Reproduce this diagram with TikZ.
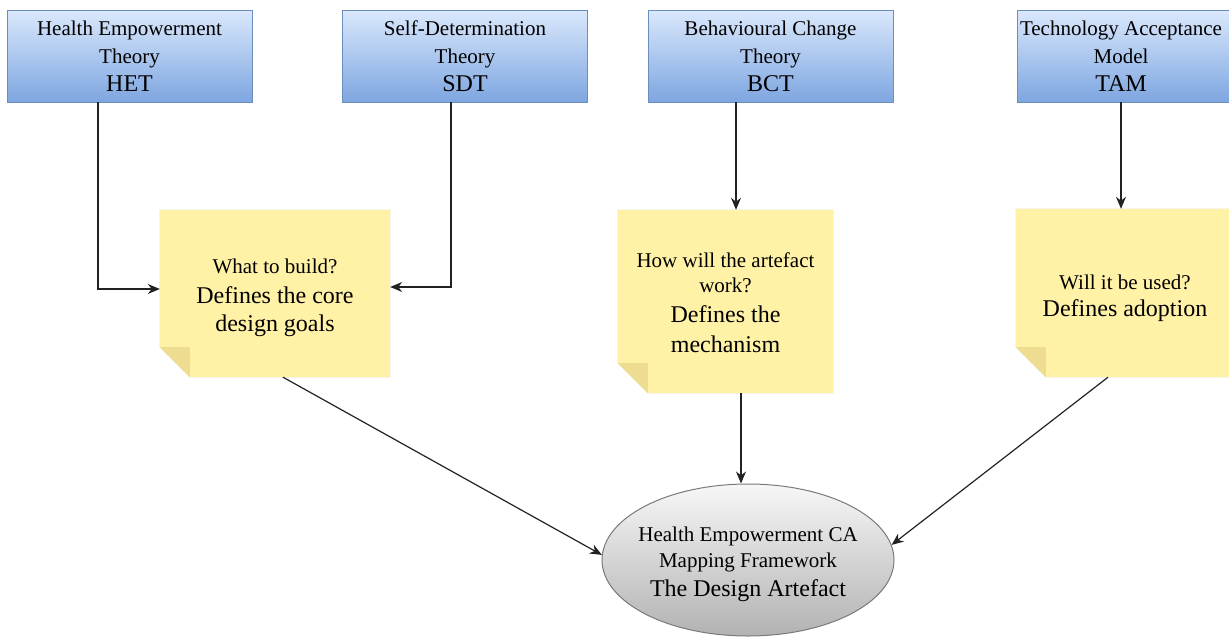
\documentclass[tikz,border=0pt]{standalone}
\usepackage{fontspec}
\setmainfont{Liberation Serif}
\newfontfamily\serifface{Liberation Serif}
\usetikzlibrary{arrows.meta,shapes.geometric}

\definecolor{boxtop}{RGB}{218,232,252}
\definecolor{boxbot}{RGB}{126,166,224}
\definecolor{boxline}{RGB}{108,142,191}
\definecolor{notefill}{HTML}{FFF1A6}
\definecolor{notefold}{HTML}{EEDD90}
\definecolor{ovaltop}{HTML}{F7F7F7}
\definecolor{ovalbot}{HTML}{B2B2B2}
\definecolor{ovalline}{HTML}{7A7A7A}
\definecolor{wire}{HTML}{222222}

\newcommand\smallf{\serifface\fontsize{21}{28}\selectfont}
\newcommand\bigf{\serifface\fontsize{24}{30}\selectfont}

% sticky-note body with a folded bottom-left corner and a soft shadow
\newcommand\notebody[1]{%
  \foreach \s/\o in {6/0.06,4/0.10,2.5/0.14}{%
    \fill[black,opacity=\o,shift={(\s pt,\s pt)}]
      (#1.north west) -- (#1.north east) -- (#1.south east)
      -- ([xshift=30pt]#1.south west) -- ([yshift=30pt]#1.south west) -- cycle;}
  \fill[notefill] (#1.north west) -- (#1.north east) -- (#1.south east)
    -- ([xshift=30pt]#1.south west) -- ([yshift=30pt]#1.south west) -- cycle;
  \fill[notefold] ([yshift=30pt]#1.south west) -- ([xshift=30pt,yshift=30pt]#1.south west)
    -- ([xshift=30pt]#1.south west) -- cycle;}

\tikzset{
  theory/.style={draw=boxline, line width=0.8pt, top color=boxtop, bottom color=boxbot,
    minimum width=245pt, minimum height=92pt, inner sep=0pt, align=center, font=\smallf},
  notebox/.style={inner sep=0pt, align=center, font=\smallf},
  oval/.style={ellipse, draw=ovalline, line width=1pt, top color=ovaltop, bottom color=ovalbot,
    minimum width=292pt, minimum height=152pt, inner ysep=0pt, inner xsep=-40pt,
    align=center, font=\smallf},
  link/.style={draw=wire, line width=1.2pt, -{Stealth[length=12pt,width=10pt]}}
}

\begin{document}
\begin{tikzpicture}[x=1pt,y=-1pt]
\useasboundingbox (0,0) rectangle (1229,637);

% theory boxes
\node[theory] (het) at (129.5,56) {Health Empowerment\\Theory\\\bigf HET};
\node[theory] (sdt) at (465,56) {Self-Determination\\Theory\\\bigf SDT};
\node[theory] (bct) at (770.5,56) {Behavioural Change\\Theory\\\bigf BCT};
\node[theory] (tam) at (1139.5,56) {};
\node[notebox] (tamtxt) at (1121,56) {Technology Acceptance\\Model\\\bigf TAM};

% sticky notes (sized placeholders, bodies drawn behind the text)
\node[notebox, minimum width=230pt, minimum height=167pt] (note1) at (275,293.5) {};
\node[notebox, minimum width=215pt, minimum height=183pt] (note2) at (725.5,301.5) {};
\node[notebox, minimum width=218pt, minimum height=168pt] (note3) at (1125,293) {};
\notebody{note1}
\notebody{note2}
\notebody{note3}
\node[notebox] (note1txt) at ([yshift=-4pt]note1)
  {What to build?\\[2pt]\bigf Defines the core\\\bigf design goals};
\node[notebox, font=\serifface\fontsize{21}{25}\selectfont] (note2txt) at ([yshift=-1pt]note2)
  {How will the artefact\\work?\\[5pt]\bigf Defines the\\[5pt]\bigf mechanism};
\node[notebox, font=\serifface\fontsize{21}{27}\selectfont] (note3txt) at ([yshift=-5pt]note3)
  {Will it be used?\\\bigf Defines adoption};

% the framework
\node[oval, font=\serifface\fontsize{21}{26}\selectfont] (art) at (748,560) {};
\node[notebox, font=\serifface\fontsize{21}{26}\selectfont] (arttxt) at ([yshift=-4pt]art)
  {Health Empowerment CA\\Mapping Framework\\[3pt]\bigf The Design Artefact};

% connectors
\draw[link] ([xshift=-31.5pt]het.south) |- ([yshift=4.5pt]note1.west);
\draw[link] ([xshift=-14pt]sdt.south) |- ([yshift=6.5pt]note1.east);
\draw[link] ([xshift=-34.5pt]bct.south) -- ([xshift=-34.5pt]bct.south |- note2.north);
\draw[link] (tamtxt.center |- tam.south) -- (tamtxt.center |- note3.north);
\draw[link] ([xshift=8pt]note1.south) -- (art.178);
\draw[link] ([xshift=15.5pt]note2.south) -- ([xshift=15.5pt]note2.south |- art.north);
\draw[link] ([xshift=-17pt]note3.south) -- (art.6);
\end{tikzpicture}
\end{document}
